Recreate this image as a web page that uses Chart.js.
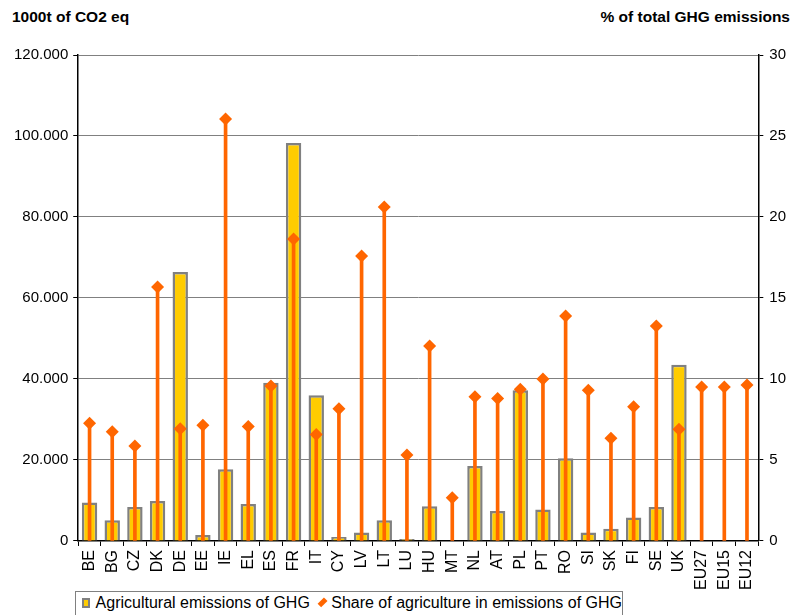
<!DOCTYPE html>
<html>
<head>
<meta charset="utf-8">
<script src="https://cdn.jsdelivr.net/npm/chart.js@4.4.1/dist/chart.umd.min.js"></script>
<style>
  html, body { margin: 0; padding: 0; background: #fff; }
  body { width: 795px; height: 615px; position: relative; overflow: hidden; font-family: Arial, "Liberation Sans", sans-serif; }
  #wrap { position: absolute; left: 0; top: 0; width: 795px; height: 594px; }
  .axis-title { position: absolute; top: 8px; font-size: 15.5px; font-weight: bold; color: #000; }
  #legend { position: absolute; left: 75px; top: 591px; width: 548px; height: 26px; border: 1px solid #808080; padding: 0 0 3px 6px; display: flex; align-items: center; font-size: 16px; color: #000; white-space: nowrap; box-sizing: border-box; background: #fff; }
  .sw-bar { display: inline-block; width: 10px; height: 10px; background: #FFCC00; border: 2px solid #808080; margin-right: 6px; box-sizing: border-box; }
  .sw-dia { display: inline-block; width: 9px; height: 9px; background: #FF6600; transform: rotate(45deg); margin: 0 6px 0 10px; }
</style>
</head>
<body>
<div class="axis-title" style="left: 12px;">1000t of CO2 eq</div>
<div class="axis-title" style="right: 5px;">% of total GHG emissions</div>
<div id="wrap"><canvas id="chart"></canvas></div>
<div id="legend">
  <span class="sw-bar"></span>Agricultural emissions of GHG
  <span class="sw-dia"></span>Share of agriculture in emissions of GHG
</div>
<script>
const countries = ['BE','BG','CZ','DK','DE','EE','IE','EL','ES','FR','IT','CY','LV','LT','LU','HU','MT','NL','AT','PL','PT','RO','SI','SK','FI','SE','UK','EU27','EU15','EU12'];

// 1000t of CO2 eq
const emissions = [9.5, 5.1, 8.4, 9.9, 66.4, 1.5, 17.7, 9.1, 39.1, 98.3, 36.0, 1.0, 2.1, 5.1, 0.5, 8.6, 0, 18.5, 7.4, 37.2, 7.8, 20.4, 2.1, 3.0, 5.8, 8.4, 43.5, null, null, null].map(v => v === null ? null : v * 1000);

// % of total GHG emissions
const share = [7.27, 6.75, 5.86, 15.68, 6.93, 7.14, 26.05, 7.06, 9.57, 18.64, 6.58, 8.17, 17.59, 20.62, 5.31, 12.04, 2.67, 8.91, 8.79, 9.36, 10.0, 13.89, 9.30, 6.34, 8.29, 13.27, 6.89, 9.51, 9.51, 9.63];

const fontFamily = 'Arial, "Liberation Sans", sans-serif';

const formatThousands = (v) => String(v).replace(/\B(?=(\d{3})+(?!\d))/g, '.');

const config = {
  type: 'bar',
  data: {
    labels: countries,
    datasets: [
      {
        type: 'line',
        label: 'Share of agriculture in emissions of GHG',
        data: share,
        yAxisID: 'y1',
        showLine: false,
        pointStyle: 'rectRot',
        pointRadius: 6.5,
        pointBackgroundColor: '#FF6600',
        pointBorderColor: '#FF6600',
        pointBorderWidth: 0,
        order: 0
      },
      {
        // drop lines under the diamonds
        type: 'bar',
        label: 'drop',
        data: share,
        yAxisID: 'y1',
        backgroundColor: '#FF6600',
        barThickness: 3,
        grouped: false,
        order: 1
      },
      {
        type: 'bar',
        label: 'Agricultural emissions of GHG',
        data: emissions,
        yAxisID: 'y',
        backgroundColor: '#FFCC00',
        borderColor: '#808080',
        borderWidth: 2.5,
        barPercentage: 0.68,
        categoryPercentage: 1,
        grouped: false,
        order: 2
      }
    ]
  },
  options: {
    responsive: true,
    maintainAspectRatio: false,
    animation: false,
    layout: {
      padding: { top: 55, left: 9, right: 3, bottom: 0 }
    },
    plugins: {
      legend: { display: false },
      tooltip: { enabled: false }
    },
    scales: {
      x: {
        ticks: {
          color: '#000',
          font: { family: fontFamily, size: 16 },
          minRotation: 90,
          maxRotation: 90,
          autoSkip: false,
          padding: 4
        },
        grid: {
          offset: true,
          drawOnChartArea: false,
          drawTicks: true,
          tickLength: 5,
          color: '#000'
        },
        border: { color: '#000', width: 1.5 }
      },
      y: {
        position: 'left',
        min: 0,
        max: 120000,
        ticks: {
          stepSize: 20000,
          color: '#000',
          font: { family: fontFamily, size: 15 },
          padding: 5,
          callback: (value) => formatThousands(value)
        },
        grid: {
          color: '#808080',
          lineWidth: 1,
          tickLength: 5,
          tickColor: '#000'
        },
        border: { color: '#000', width: 1.5 }
      },
      y1: {
        position: 'right',
        min: 0,
        max: 30,
        ticks: {
          stepSize: 5,
          color: '#000',
          font: { family: fontFamily, size: 15 },
          padding: 6
        },
        grid: {
          drawOnChartArea: false,
          tickLength: 5,
          color: '#000'
        },
        border: { color: '#000', width: 1.5 }
      }
    }
  }
};

new Chart(document.getElementById('chart'), config);
</script>
</body>
</html>
